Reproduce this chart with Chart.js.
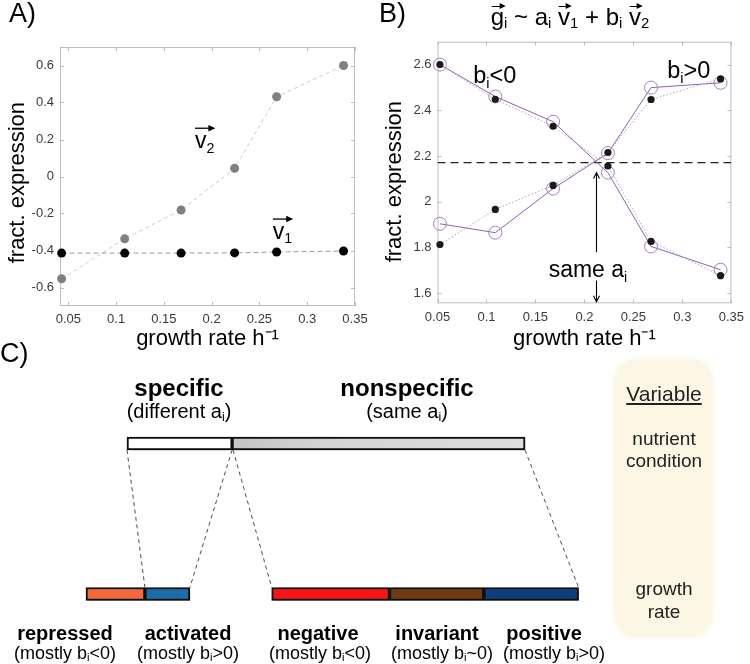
<!DOCTYPE html>
<html><head><meta charset="utf-8">
<script src="https://cdn.jsdelivr.net/npm/chart.js@4.4.1/dist/chart.umd.min.js"></script>
<style>
html,body{margin:0;padding:0;background:#fff;}
#wrap{position:relative;width:750px;height:664px;overflow:hidden;font-family:"Liberation Sans",Arial,Helvetica,sans-serif;color:#000;}
canvas{position:absolute;}
.t{position:absolute;white-space:nowrap;line-height:1;}
.sub{font-size:62%;vertical-align:-0.22em;}
.vec{position:relative;display:inline-block;}
.vec .ar{position:absolute;left:1px;right:0;top:1px;height:1.4px;background:#000;}
.vec .ar::after{content:"";position:absolute;right:-2px;top:-2.6px;border-left:6px solid #000;border-top:3.3px solid transparent;border-bottom:3.3px solid transparent;}
#varbox{position:absolute;left:615px;top:360px;width:97px;height:276px;border-radius:22px;background:#fcf6e4;box-shadow:0 0 5px 2px #fcf6e4;}
</style></head><body><div id="wrap">
<div id="varbox"></div>
<canvas id="cA" width="375" height="355" style="left:0;top:0;width:375px;height:355px"></canvas>
<canvas id="cB" width="375" height="355" style="left:375px;top:0;width:375px;height:355px"></canvas>
<canvas id="cC" width="750" height="334" style="left:0;top:330px;width:750px;height:334px"></canvas>
</div>
<script>
// ---------------- data ----------------
// Panel A : singular vectors vs growth rate
const growthA  = [0.043, 0.109, 0.168, 0.224, 0.268, 0.338];
const v1Values = [-0.414, -0.414, -0.414, -0.413, -0.408, -0.403];
const v2Values = [-0.553, -0.337, -0.181, 0.044, 0.431, 0.600];
const xTicks   = [0.05, 0.10, 0.15, 0.20, 0.25, 0.30, 0.35];
const yTicksA  = [-0.6, -0.4, -0.2, 0, 0.2, 0.4, 0.6];

// Panel B : two example genes (data = dots, fit = open circles)
const growthB  = [0.0525, 0.109, 0.168, 0.224, 0.268, 0.339];
const negData  = [2.600, 2.448, 2.330, 2.156, 1.826, 1.676];
const negFit   = [2.600, 2.460, 2.350, 2.127, 1.804, 1.702];
const posData  = [1.812, 1.966, 2.071, 2.215, 2.447, 2.537];
const posFit   = [1.903, 1.864, 2.057, 2.212, 2.499, 2.520];
const sameLevel = [2.171, 2.171];
const sameLevelX = [0.05, 0.35];
const yTicksB  = [1.6, 1.8, 2.0, 2.2, 2.4, 2.6];

// Panel C : gene classes (share of genes, %)
const groupLabels       = ['specific', 'nonspecific'];
const groupShares       = [26.4, 73.6];
const specificLabels    = ['repressed', 'activated'];
const specificShares    = [14.8, 11.3];
const nonspecificLabels = ['negative', 'invariant', 'positive'];
const nonspecificShares = [29.6, 23.7, 23.8];

// ---------------- helpers ----------------
const FONT = '"Liberation Sans", Arial, Helvetica, sans-serif';
const toXY = (xs, ys) => xs.map((x, i) => ({x: x, y: ys[i]}));
const fmt = v => String(parseFloat(Number(v).toFixed(2)));

const frame = {
  id: 'frame',
  beforeDatasetsDraw(chart) {
    const {ctx, chartArea: a, scales} = chart;
    ctx.save();
    ctx.strokeStyle = '#bdbdbd'; ctx.lineWidth = 1;
    ctx.strokeRect(a.left + 0.5, a.top + 0.5, a.right - a.left - 1, a.bottom - a.top - 1);
    const L = 4;
    ctx.beginPath();
    scales.x.ticks.forEach(t => {
      const px = Math.round(scales.x.getPixelForValue(t.value)) + 0.5;
      ctx.moveTo(px, a.bottom); ctx.lineTo(px, a.bottom - L);
      ctx.moveTo(px, a.top); ctx.lineTo(px, a.top + L);
    });
    scales.y.ticks.forEach(t => {
      const py = Math.round(scales.y.getPixelForValue(t.value)) + 0.5;
      ctx.moveTo(a.left, py); ctx.lineTo(a.left + L, py);
      ctx.moveTo(a.right, py); ctx.lineTo(a.right - L, py);
    });
    ctx.stroke();
    ctx.restore();
  }
};

function drawParts(ctx, px, py, parts, fs) {
  let x = px;
  parts.forEach(p => {
    const f = p[1] ? fs * 0.62 : fs;
    ctx.font = f + 'px ' + FONT;
    ctx.fillText(p[0], x, p[1] ? py + fs * 0.2 : py);
    x += ctx.measureText(p[0]).width;
  });
  return x - px;
}
function drawVec(ctx, px, py, base, sub, fs) {
  ctx.fillStyle = '#000'; ctx.textAlign = 'left'; ctx.textBaseline = 'alphabetic';
  const w = drawParts(ctx, px, py, [[base, false], [sub, true]], fs);
  const ay = py - fs * 0.86;
  ctx.strokeStyle = '#000'; ctx.lineWidth = 1.3;
  ctx.beginPath(); ctx.moveTo(px, ay); ctx.lineTo(px + w - 3, ay); ctx.stroke();
  ctx.beginPath(); ctx.moveTo(px + w + 1, ay); ctx.lineTo(px + w - 6, ay - 3.2); ctx.lineTo(px + w - 6, ay + 3.2); ctx.closePath(); ctx.fill();
}

function axis(min, max, ticks, title, fitKey, fitVal, tpad) {
  return {
    type: 'linear', min: min, max: max,
    afterBuildTicks: s => { s.ticks = ticks.map(v => ({value: v})); },
    afterFit: s => { s[fitKey] = fitVal; },
    grid: {display: false, drawTicks: false},
    border: {display: false},
    ticks: {padding: 6, color: '#3a3a3a', font: {size: 13, family: FONT}, callback: v => fmt(v), maxRotation: 0, autoSkip: false},
    title: {display: true, text: title, color: '#000', font: {size: 22, family: FONT, lineHeight: 1}, padding: tpad}
  };
}
const baseOpts = {
  responsive: false, animation: false, events: [],
  plugins: {legend: {display: false}, tooltip: {enabled: false}}
};

// ---------------- Panel A ----------------
const vecLabelsA = {
  id: 'vecLabelsA',
  afterDatasetsDraw(chart) {
    const {ctx, scales: {x, y}} = chart;
    ctx.save();
    drawVec(ctx, x.getPixelForValue(0.1825), y.getPixelForValue(0.154), 'v', '2', 23);
    drawVec(ctx, x.getPixelForValue(0.264), y.getPixelForValue(-0.337), 'v', '1', 23);
    ctx.restore();
  }
};
new Chart(document.getElementById('cA'), {
  type: 'line',
  data: {datasets: [
    {label: 'v1', data: toXY(growthA, v1Values), borderColor: '#9d9d9d', borderWidth: 1, borderDash: [5, 3],
     pointRadius: 4.5, pointBackgroundColor: '#000', pointBorderWidth: 0, clip: false},
    {label: 'v2', data: toXY(growthA, v2Values), borderColor: '#cdcdcd', borderWidth: 1, borderDash: [4, 3],
     pointRadius: 4.5, pointBackgroundColor: '#808080', pointBorderWidth: 0, clip: false}
  ]},
  options: Object.assign({}, baseOpts, {
    layout: {padding: {left: 0, right: 20, top: 47, bottom: 0}},
    scales: {
      x: axis(0.0413, 0.35, xTicks, 'growth rate h\u207B\u00B9', 'height', 49, {top: 0, bottom: 5}),
      y: axis(-0.7, 0.7, yTicksA, 'fract. expression  ', 'width', 60, {top: 7, bottom: 0})
    }
  }),
  plugins: [frame, vecLabelsA]
});

// ---------------- Panel B ----------------
const annB = {
  id: 'annB',
  afterDatasetsDraw(chart) {
    const {ctx, scales: {x, y}} = chart;
    ctx.save();
    ctx.fillStyle = '#000'; ctx.textAlign = 'left'; ctx.textBaseline = 'alphabetic';
    drawParts(ctx, x.getPixelForValue(0.0865), y.getPixelForValue(2.518), [['b', false], ['i', true], ['<0', false]], 23.5);
    drawParts(ctx, x.getPixelForValue(0.2845), y.getPixelForValue(2.540), [['b', false], ['i', true], ['>0', false]], 23.5);
    drawParts(ctx, x.getPixelForValue(0.1635), y.getPixelForValue(1.669), [['same a', false], ['i', true]], 23);
    const ax = Math.round(x.getPixelForValue(0.212)) + 0.5;
    const u0 = y.getPixelForValue(1.778), u1 = y.getPixelForValue(2.127);
    const d0 = y.getPixelForValue(1.655), d1 = y.getPixelForValue(1.562);
    ctx.strokeStyle = '#000'; ctx.lineWidth = 1.1;
    ctx.beginPath();
    ctx.moveTo(ax, u0); ctx.lineTo(ax, u1);
    ctx.moveTo(ax - 3, u1 + 6); ctx.lineTo(ax, u1); ctx.lineTo(ax + 3, u1 + 6);
    ctx.moveTo(ax, d0); ctx.lineTo(ax, d1);
    ctx.moveTo(ax - 3, d1 - 6); ctx.lineTo(ax, d1); ctx.lineTo(ax + 3, d1 - 6);
    ctx.stroke();
    ctx.restore();
  }
};
const dotStyle = {borderColor: '#b19dc2', borderWidth: 1, borderDash: [1.5, 2], pointRadius: 3.6,
  pointBackgroundColor: '#1a1a1a', pointBorderWidth: 0, clip: false};
const circStyle = {borderColor: '#8f62ab', borderWidth: 1, pointRadius: 6.5, pointBackgroundColor: 'rgba(0,0,0,0)',
  pointBorderColor: '#a47fc2', pointBorderWidth: 1, clip: false};
new Chart(document.getElementById('cB'), {
  type: 'line',
  data: {datasets: [
    Object.assign({label: 'b<0 data', data: toXY(growthB, negData)}, dotStyle),
    Object.assign({label: 'b>0 data', data: toXY(growthB, posData)}, dotStyle),
    Object.assign({label: 'b<0 fit', data: toXY(growthB, negFit)}, circStyle),
    Object.assign({label: 'b>0 fit', data: toXY(growthB, posFit)}, circStyle),
    {label: 'same a', data: toXY(sameLevelX, sameLevel), borderColor: '#222', borderWidth: 1.3, borderDash: [8, 5], pointRadius: 0}
  ]},
  options: Object.assign({}, baseOpts, {
    layout: {padding: {left: 0, right: 12.5, top: 41.7, bottom: 0}},
    scales: {
      x: axis(0.05, 0.35, xTicks, 'growth rate h\u207B\u00B9', 'height', 51.7, {top: 0, bottom: 5}),
      y: axis(1.555, 2.7, yTicksB, 'fract. expression   ', 'width', 62.5, {top: 9, bottom: 0})
    }
  }),
  plugins: [frame, annB]
});

// ---------------- Panel C ----------------
const cLayout = {xMin: -31.91, xMax: 156.53, specificStart: -10.3, nonspecificStart: 36.36};
const cColors = {
  specific: '#ffffff', nonspecific: '#d4d4d4',
  repressed: '#f36a3a', activated: '#1a6da8',
  negative: '#f71414', invariant: '#6e3a12', positive: '#0e3f7b'
};
function segments(shares, start) {
  const out = []; let s = start;
  shares.forEach(v => { out.push([s, s + v]); s += v; });
  return out;
}
const grayFill = ctx => {
  const ch = ctx.chart;
  const sx = ch.scales && ch.scales.x;
  if (!sx) return cColors.nonspecific;
  const x0 = sx.getPixelForValue(groupShares[0]);
  const x1 = sx.getPixelForValue(groupShares[0] + groupShares[1]);
  if (!isFinite(x0) || !isFinite(x1) || x1 <= x0) return cColors.nonspecific;
  const g = ch.ctx.createLinearGradient(x0, 0, x1, 0);
  g.addColorStop(0, '#c4c4c4'); g.addColorStop(0.3, '#d4d4d4'); g.addColorStop(1, '#dedede');
  return g;
};
const cDatasets = [];
const barCommon = {barThickness: 13, grouped: false, borderWidth: 2, borderColor: '#111', borderSkipped: false, clip: false};
segments(groupShares, 0).forEach((seg, i) => cDatasets.push(Object.assign({
  label: groupLabels[i], data: [seg, null],
  backgroundColor: groupLabels[i] === 'nonspecific' ? grayFill : cColors[groupLabels[i]]}, barCommon)));
segments(specificShares, cLayout.specificStart).forEach((seg, i) => cDatasets.push(Object.assign({
  label: specificLabels[i], data: [null, seg], backgroundColor: cColors[specificLabels[i]]}, barCommon)));
segments(nonspecificShares, cLayout.nonspecificStart).forEach((seg, i) => cDatasets.push(Object.assign({
  label: nonspecificLabels[i], data: [null, seg], backgroundColor: cColors[nonspecificLabels[i]]}, barCommon)));

const shadow = {
  id: 'shadow',
  beforeDatasetsDraw(chart) {
    const c = chart.ctx; c.save();
    c.shadowColor = 'rgba(0,0,0,0.45)'; c.shadowBlur = 4; c.shadowOffsetX = 1; c.shadowOffsetY = 2;
  },
  afterDatasetsDraw(chart) { chart.ctx.restore(); }
};
const connectors = {
  id: 'connectors',
  afterDatasetsDraw(chart) {
    const el = (d, i) => chart.getDatasetMeta(d).data[i].getProps(['x', 'y', 'base', 'height'], true);
    const spec = el(0, 0), non = el(1, 0);
    const rep = el(2, 1), act = el(3, 1), neg = el(4, 1), pos = el(6, 1);
    const bot = e => e.y + e.height / 2, top = e => e.y - e.height / 2;
    const c = chart.ctx; c.save();
    c.strokeStyle = '#3a3a3a'; c.lineWidth = 0.9; c.setLineDash([4, 3.5]);
    c.beginPath();
    c.moveTo(spec.base, bot(spec)); c.lineTo(rep.base, top(rep));
    c.moveTo(spec.x, bot(spec)); c.lineTo(act.x, top(act));
    c.moveTo(non.base + 1, bot(non)); c.lineTo(neg.base, top(neg));
    c.moveTo(non.x, bot(non)); c.lineTo(pos.x, top(pos));
    c.stroke(); c.restore();
  }
};
new Chart(document.getElementById('cC'), {
  type: 'bar',
  data: {labels: ['top', 'bottom'], datasets: cDatasets},
  options: Object.assign({}, baseOpts, {
    indexAxis: 'y',
    layout: {padding: {left: 0, right: 0, top: 113.5, bottom: 70}},
    scales: {
      x: {type: 'linear', min: cLayout.xMin, max: cLayout.xMax, display: false},
      y: {type: 'category', display: false, offset: false}
    }
  }),
  plugins: [shadow, connectors]
});

// ---------------- HTML text ----------------
const wrap = document.getElementById('wrap');
const S = s => '<span class="sub">' + s + '</span>';
const V = s => '<span class="vec">' + s + '<span class="ar"></span></span>';
function addText(html, x, cy, size, opts) {
  opts = opts || {};
  const d = document.createElement('div');
  d.className = 't';
  d.innerHTML = html;
  d.style.fontSize = size + 'px';
  d.style.top = (cy - 0.59 * size) + 'px';
  d.style.left = x + 'px';
  if (opts.bold) d.style.fontWeight = 'bold';
  if (opts.center !== false) d.style.transform = 'translateX(-50%)';
  if (opts.underline) d.style.textDecoration = 'underline';
  if (opts.color) d.style.color = opts.color;
  wrap.appendChild(d);
}
addText('A)', 9, 16, 27, {center: false});
addText('B)', 379, 16, 27, {center: false});
addText('C)', 0, 356, 27, {center: false});
addText(V('g') + S('i') + ' ~ a' + S('i') + ' ' + V('v') + S('1') + ' + b' + S('i') + ' ' + V('v') + S('2'), 570, 19, 24);

addText('specific', 179, 390, 24, {bold: true});
addText('(different a' + S('i') + ')', 179, 413, 20);
addText('nonspecific', 407, 390, 24, {bold: true});
addText('(same a' + S('i') + ')', 407, 413, 20);

const lab = [['repressed', 65, '(mostly b' + S('i') + '&lt;0)', 65],
             ['activated', 188, '(mostly b' + S('i') + '&gt;0)', 188],
             ['negative', 318, '(mostly b' + S('i') + '&lt;0)', 320],
             ['invariant', 437, '(mostly b' + S('i') + '~0)', 442],
             ['positive', 544, '(mostly b' + S('i') + '&gt;0)', 554]];
lab.forEach(l => { addText(l[0], l[1], 634.5, 20, {bold: true}); addText(l[2], l[3], 655, 18); });

addText('Variable', 664, 395, 21, {underline: true, color: '#222'});
addText('nutrient', 664, 440, 19, {color: '#222'});
addText('condition', 664, 462, 19, {color: '#222'});
addText('growth', 664, 590, 19, {color: '#222'});
addText('rate', 664, 613, 19, {color: '#222'});
</script>
</body></html>
